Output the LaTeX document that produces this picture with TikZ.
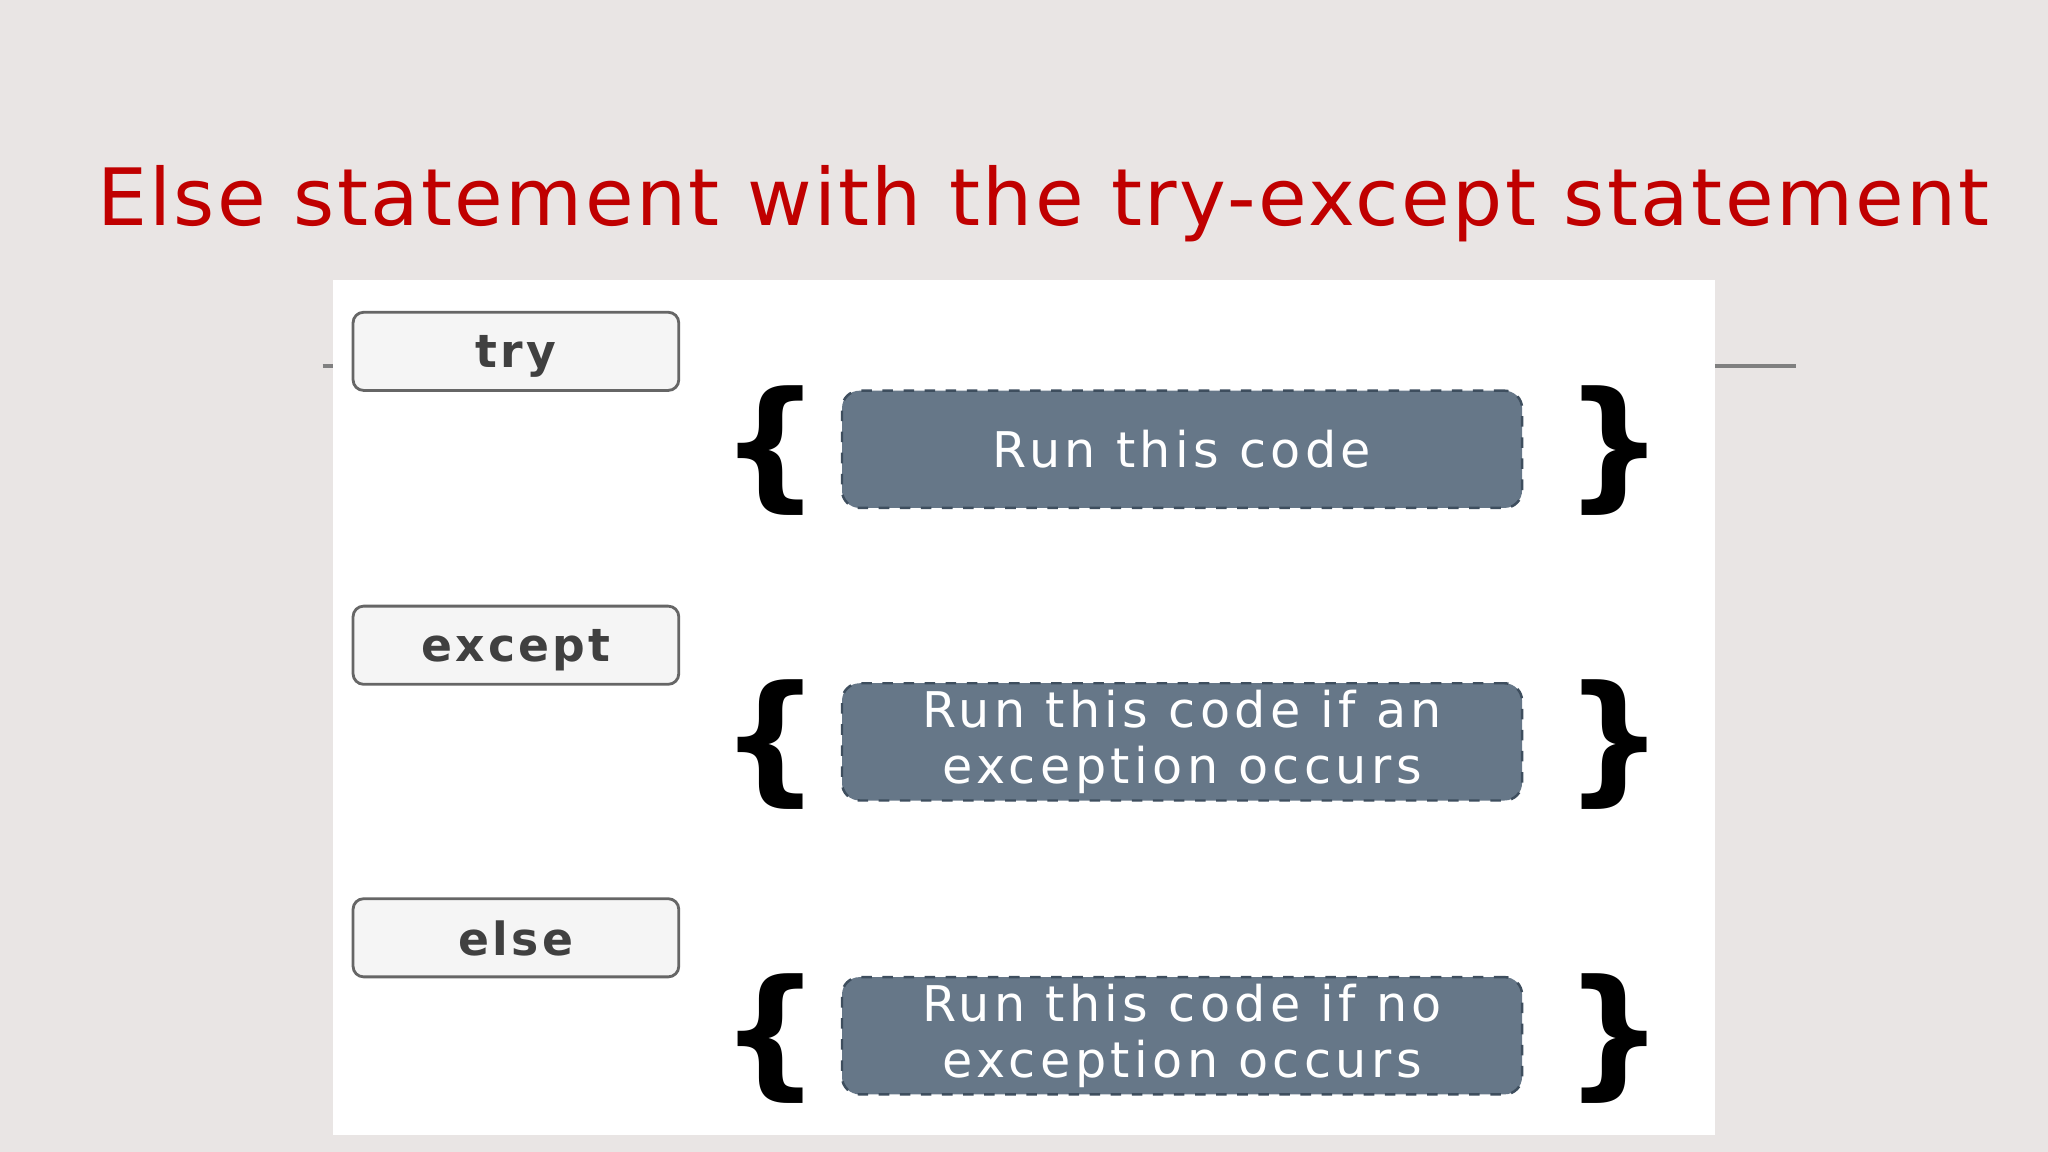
\documentclass[tikz,border=0pt]{standalone}
\usepackage{fontspec}
\setmainfont{DejaVu Sans}
\definecolor{bg}{HTML}{E9E5E4}
\definecolor{ttl}{HTML}{C00000}
\definecolor{boxf}{HTML}{667788}
\definecolor{boxd}{HTML}{3E4E5E}
\tikzset{
 lbl/.style={draw=gray!80!black, fill=gray!8, rounded corners=3pt, line width=0.8pt, minimum width=250*0.3707pt, minimum height=60*0.3707pt, inner sep=0pt, text depth=0pt, font=\fontsize{13}{15}\selectfont\bfseries\addfontfeature{LetterSpace=7}, text=black!75},
 code/.style={draw=boxd, dashed, fill=boxf, rounded corners=5pt, line width=0.7pt, minimum width=522*0.3707pt, minimum height=90*0.3707pt, inner sep=0pt, font=\fontsize{14}{16}\selectfont\addfontfeature{LetterSpace=9}, text=white, align=center},
 brace/.style={font=\fontsize{40}{40}\selectfont\bfseries, inner sep=0pt}
}
\begin{document}
\begin{tikzpicture}[x=0.01306cm,y=-0.01306cm]
\fill[bg] (0,0) rectangle (1568,882);
\useasboundingbox (0,0) rectangle (1568,882);
\node[text=ttl, font=\fontsize{22.5}{27}\selectfont\addfontfeature{LetterSpace=3}] (title) at (799,156) {Else statement with the try-except statement};
\fill[white] (255,214) rectangle (1313,869);
\coordinate (l1) at (247,280); \coordinate (l2) at (255,280);
\coordinate (r1) at (1313,280); \coordinate (r2) at (1375,280);
\draw[gray, line width=1.2pt] (l1) -- (l2);
\draw[gray, line width=1.2pt] (r1) -- (r2);
\node[lbl] (try) at (395,269) {try};
\node[lbl] (except) at (395,494) {except};
\node[lbl] (else) at (395,718) {else};
\node[code] (c1) at (905,344) {Run this code};
\node[code] (c2) at (905,568) {Run this code if an\\exception occurs};
\node[code] (c3) at (905,793) {Run this code if no\\exception occurs};
\foreach \y/\n in {345/1,570/2,795/3}{
 \node[brace] (lb\n) at (590,\y) {\{};
 \node[brace] (rb\n) at (1236,\y) {\}};
}
\end{tikzpicture}
\end{document}
